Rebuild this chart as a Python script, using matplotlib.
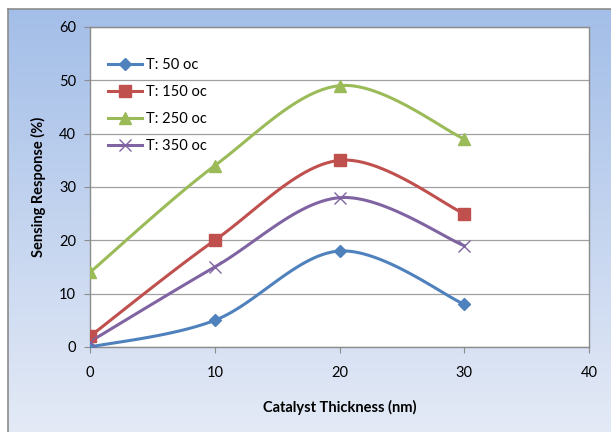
import numpy as np
import matplotlib
matplotlib.use("Agg")
import matplotlib.pyplot as plt
from matplotlib.lines import Line2D

x_vals = [0, 10, 20, 30]
t50 = [0, 5, 18, 8]
t150 = [2, 20, 35, 25]
t250 = [14, 34, 49, 39]
t350 = [1, 15, 28, 19]
labels = ["T: 50 oc", "T: 150 oc", "T: 250 oc", "T: 350 oc"]
colors = ["#4F81BD", "#C0504D", "#9BBB59", "#8064A2"]
markers = ["D", "s", "^", "x"]
msizes = [6, 8, 9, 8]

plt.rcParams['font.family'] = ['Lato', 'DejaVu Sans']

def smooth(xs, ys, n=30):
    xs = np.asarray(xs, float); ys = np.asarray(ys, float)
    P = np.column_stack([xs, ys])
    out = [P[0]]
    for i in range(len(P) - 1):
        p0 = P[i - 1] if i > 0 else P[i]
        p1 = P[i]; p2 = P[i + 1]
        p3 = P[i + 2] if i + 2 < len(P) else P[i + 1]
        c1 = p1 + (p2 - p0) / 6.0
        c2 = p2 - (p3 - p1) / 6.0
        t = np.linspace(0, 1, n)[1:, None]
        b = ((1 - t) ** 3) * p1 + 3 * ((1 - t) ** 2) * t * c1 + 3 * (1 - t) * t ** 2 * c2 + t ** 3 * p2
        out.extend(b)
    out = np.array(out)
    return out[:, 0], out[:, 1]

fig = plt.figure(figsize=(6.11, 4.32), dpi=100)
fig.patch.set_facecolor("white")

bg = fig.add_axes([8/611, 0, 1 - 8/611, 1 - 9/432])
grad = np.linspace(0, 1, 256)[:, None]
top = np.array([0xA3, 0xBE, 0xE8]) / 255
bot = np.array([0xE4, 0xEA, 0xF6]) / 255
img = top[None, None, :] * (1 - grad[:, :, None]) + bot[None, None, :] * grad[:, :, None]
bg.imshow(img, aspect="auto", extent=[0, 1, 0, 1])
bg.set_xticks([]); bg.set_yticks([])
for s in ["right", "bottom"]:
    bg.spines[s].set_visible(False)
for s in ["left", "top"]:
    bg.spines[s].set_color("#8c8c8c")
    bg.spines[s].set_linewidth(1.2)
bg.set_zorder(0)

ax = fig.add_axes([90/611, 1 - 347/432, (589 - 90)/611, (347 - 27)/432])
ax.set_zorder(1)
ax.set_facecolor("white")
series = [t50, t150, t250, t350]
handles = []
for ys, lab, c, m, ms in zip(series, labels, colors, markers, msizes):
    sx, sy = smooth(x_vals, ys)
    ax.plot(sx, sy, color=c, lw=2.2, zorder=3)
    ax.plot(x_vals, ys, linestyle="none", marker=m, color=c, markersize=ms,
            markeredgewidth=1.0, zorder=4)
    handles.append(Line2D([0], [0], color=c, lw=2.2, marker=m, markersize=ms))

ax.set_xlim(0, 40)
ax.set_ylim(0, 60)
ax.set_xticks([0, 10, 20, 30, 40])
ax.set_yticks([0, 10, 20, 30, 40, 50, 60])
ax.yaxis.grid(True, color="#a0a0a0", lw=0.9)
ax.set_axisbelow(True)
ax.tick_params(axis="both", labelsize=10.5, colors="#8c8c8c", labelcolor="black", length=4)
ax.tick_params(axis="x", pad=10)
ax.tick_params(axis="y", pad=6)
for s in ax.spines.values():
    s.set_color("#8c8c8c")
    s.set_linewidth(1.0)

ax.set_xlabel("Catalyst Thickness (nm)", fontsize=10.5, fontweight="bold", labelpad=14)
ax.set_ylabel("Sensing Response (%)", fontsize=10.5, fontweight="bold", labelpad=9)

leg = ax.legend(handles, labels, loc="upper left", bbox_to_anchor=(0.01, 0.945),
                frameon=False, fontsize=10.5, handlelength=2.3, labelspacing=0.9,
                handletextpad=0.3)

fig.savefig("out.png", dpi=100, facecolor=fig.get_facecolor())
